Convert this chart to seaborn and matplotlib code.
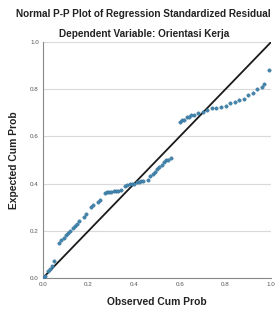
import matplotlib
matplotlib.use("Agg")
import pandas as pd
import matplotlib.pyplot as plt
import seaborn as sns

# Observed vs expected cumulative probabilities
observed = [0.00, 0.01, 0.02, 0.03, 0.04, 0.05,
            0.07, 0.08, 0.09, 0.10, 0.11, 0.12, 0.13, 0.14, 0.15, 0.16, 0.18, 0.19,
            0.21, 0.22, 0.24, 0.25,
            0.27, 0.28, 0.29, 0.30, 0.31, 0.32, 0.33, 0.34,
            0.36, 0.37, 0.38, 0.39, 0.40, 0.41, 0.42, 0.43, 0.44, 0.46,
            0.47, 0.48, 0.49, 0.50, 0.51, 0.52, 0.53, 0.54, 0.55, 0.56,
            0.60, 0.61, 0.62, 0.63, 0.64, 0.65, 0.66, 0.68, 0.70, 0.72, 0.74,
            0.76, 0.78, 0.80, 0.82, 0.84, 0.86, 0.88, 0.90, 0.92, 0.94, 0.96, 0.97,
            0.99]
expected = [0.00, 0.01, 0.03, 0.04, 0.05, 0.07,
            0.15, 0.16, 0.17, 0.18, 0.19, 0.20, 0.21, 0.22, 0.23, 0.24, 0.26, 0.27,
            0.30, 0.31, 0.32, 0.33,
            0.36, 0.365, 0.365, 0.365, 0.367, 0.368, 0.37, 0.372,
            0.39, 0.395, 0.40, 0.40, 0.40, 0.405, 0.405, 0.41, 0.41, 0.415,
            0.43, 0.44, 0.45, 0.46, 0.47, 0.48, 0.49, 0.50, 0.50, 0.51,
            0.66, 0.67, 0.67, 0.68, 0.68, 0.69, 0.69, 0.70, 0.705, 0.71, 0.72,
            0.72, 0.725, 0.73, 0.74, 0.745, 0.755, 0.76, 0.775, 0.785, 0.80, 0.81, 0.82,
            0.88]
diag = [0.0, 1.0]
ticks = [0.0, 0.2, 0.4, 0.6, 0.8, 1.0]
tick_labels = ["0.0", "0.2", "0.4", "0.6", "0.8", "1.0"]

df = pd.DataFrame({"Observed Cum Prob": observed, "Expected Cum Prob": expected})

sns.set_style("white")
plt.rcParams["font.family"] = ["Liberation Sans", "DejaVu Sans"]

fig = plt.figure(figsize=(2.79, 3.13), dpi=100)
ax = fig.add_axes([0.154, 0.112, 0.818, 0.754])

ax.grid(axis="y", color="#d9d9d9", linewidth=0.8)
ax.set_axisbelow(True)

sns.scatterplot(data=df, x="Observed Cum Prob", y="Expected Cum Prob", ax=ax,
                color="#4286b0", edgecolor="#2f6b8e", linewidth=0.3, s=6, zorder=3)
sns.lineplot(x=diag, y=diag, ax=ax, color="#1a1a1a", linewidth=1.3, zorder=2)

ax.set_xlim(0, 1)
ax.set_ylim(0, 1)
ax.set_xticks(ticks)
ax.set_xticklabels(tick_labels)
ax.set_yticks(ticks)
ax.set_yticklabels(tick_labels)
ax.tick_params(labelsize=4.5, colors="#555555", length=0, pad=3)

for side in ["top", "right"]:
    ax.spines[side].set_visible(False)
for side in ["left", "bottom"]:
    ax.spines[side].set_color("#888888")
    ax.spines[side].set_linewidth(0.8)

ax.set_xlabel("Observed Cum Prob", fontsize=7.4, fontweight="bold", color="#222222", labelpad=7)
ax.set_ylabel("Expected Cum Prob", fontsize=7.4, fontweight="bold", color="#222222", labelpad=8)

fig.text(0.515, 0.955, "Normal P-P Plot of Regression Standardized Residual",
         ha="center", va="center", fontsize=7.2, fontweight="bold", color="#222222")
fig.text(0.515, 0.892, "Dependent Variable: Orientasi Kerja",
         ha="center", va="center", fontsize=7.2, fontweight="bold", color="#222222")

fig.savefig("out.png", dpi=100)
